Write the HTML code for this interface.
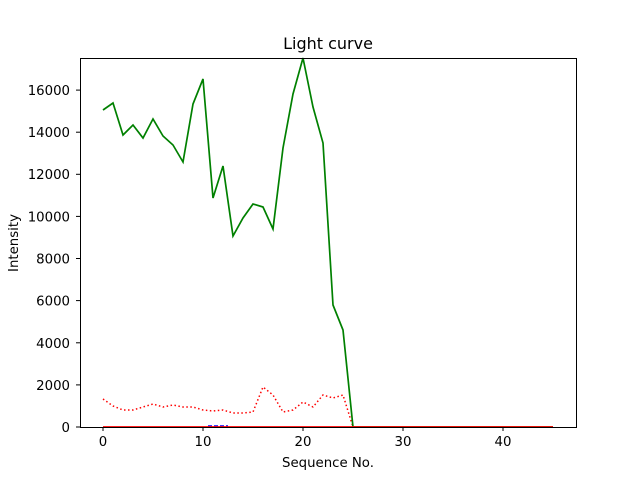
<!DOCTYPE html>
<html><head><meta charset="utf-8"><style>html,body{margin:0;padding:0;background:#fff}</style></head>
<body>
<svg width="640" height="480" viewBox="0 0 640 480" xmlns="http://www.w3.org/2000/svg" font-family="DejaVu Sans, Liberation Sans, sans-serif" font-size="13.3">
<rect width="640" height="480" fill="#fff"/>
<text x="328" y="49" text-anchor="middle" font-size="16">Light curve</text>
<polyline fill="none" stroke="red" stroke-width="1.5" stroke-dasharray="1.5,2.5" points="103,399 113,406 123,410 133,410 143,407 153,404 163,407 173,405 183,407 193,407 203,410 213,411 223,410 233,413 243,413 253,412 263,387 273,395 283,412 293,410 303,402 313,407 323,395 333,398 343,395 353,427"/>
<polyline fill="none" stroke="blue" stroke-width="1.5" stroke-dasharray="4,2" points="208,426 213,426 218,426 223,426 228,426"/>
<polyline fill="none" stroke="green" stroke-width="1.7" points="103,110 113,103 123,135 133,125 143,138 153,119 163,136 173,145 183,162 193,104 203,79 213,198 223,166 233,236 243,218 253,204 263,207 273,229 283,148 293,94 303,58 313,107 323,143 333,305 343,330 353,427 553,427"/>
<line x1="103" y1="427" x2="553" y2="427" stroke="red" stroke-width="1.7"/>
<rect x="80.5" y="58.5" width="496" height="369" fill="none" stroke="#000" stroke-width="1"/>
<g stroke="#000" stroke-width="1">
<line x1="103" y1="427" x2="103" y2="431"/><line x1="203" y1="427" x2="203" y2="431"/><line x1="303" y1="427" x2="303" y2="431"/><line x1="403" y1="427" x2="403" y2="431"/><line x1="503" y1="427" x2="503" y2="431"/>
<line x1="76" y1="427" x2="80" y2="427"/><line x1="76" y1="384.9" x2="80" y2="384.9"/><line x1="76" y1="342.8" x2="80" y2="342.8"/><line x1="76" y1="300.6" x2="80" y2="300.6"/><line x1="76" y1="258.5" x2="80" y2="258.5"/><line x1="76" y1="216.4" x2="80" y2="216.4"/><line x1="76" y1="174.3" x2="80" y2="174.3"/><line x1="76" y1="132.2" x2="80" y2="132.2"/><line x1="76" y1="90.1" x2="80" y2="90.1"/>
</g>
<g text-anchor="middle">
<text x="103" y="446">0</text><text x="203" y="446">10</text><text x="303" y="446">20</text><text x="403" y="446">30</text><text x="503" y="446">40</text>
</g>
<g text-anchor="end">
<text x="70" y="432">0</text><text x="70" y="390">2000</text><text x="70" y="348">4000</text><text x="70" y="305.5">6000</text><text x="70" y="263.5">8000</text><text x="70" y="221.5">10000</text><text x="70" y="179">12000</text><text x="70" y="137">14000</text><text x="70" y="95">16000</text>
</g>
<text x="328" y="467" text-anchor="middle">Sequence No.</text>
<text transform="translate(18,243) rotate(-90)" text-anchor="middle">Intensity</text>
</svg>
</body></html>
